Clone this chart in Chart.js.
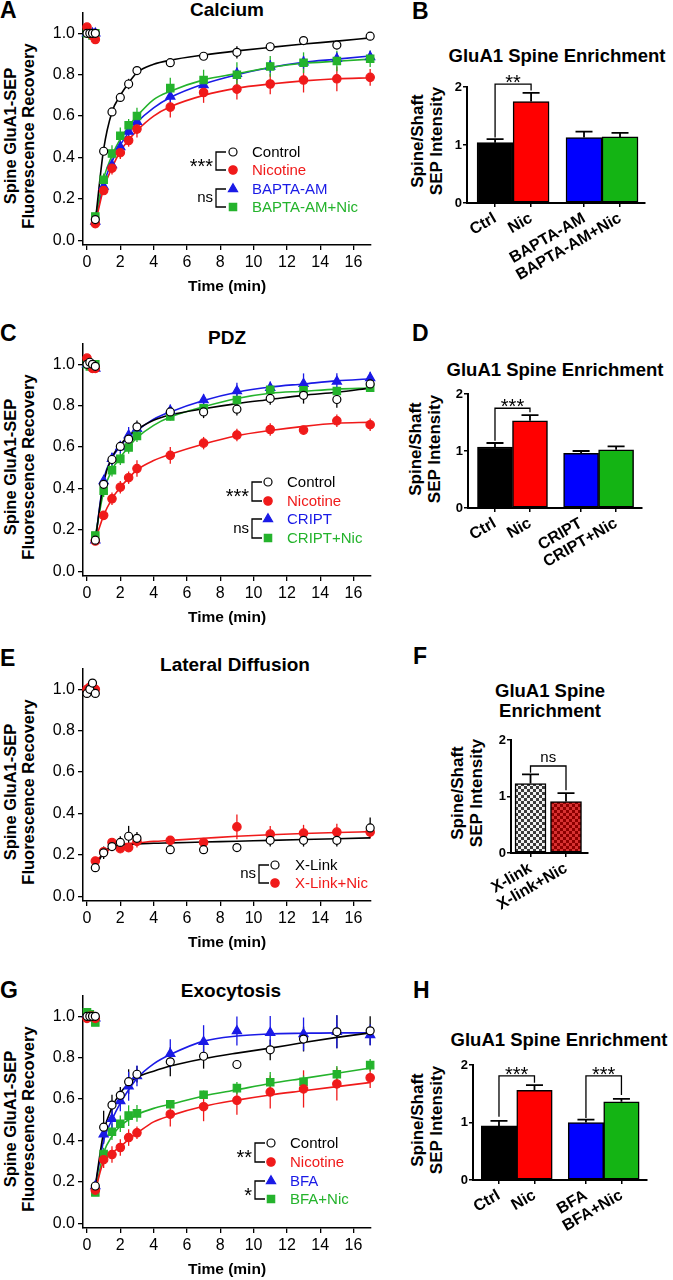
<!DOCTYPE html>
<html>
<head>
<meta charset="utf-8">
<script src="https://cdn.jsdelivr.net/npm/chart.js@4.4.0/dist/chart.umd.min.js"></script>
<style>
  body { margin: 0; background: #fff; }
  #fig { position: relative; width: 673px; height: 1280px; overflow: hidden; font-family: Arial, "Liberation Sans", Helvetica, sans-serif; color: #000; }
  canvas { position: absolute; }
  .letter { position: absolute; font-weight: bold; font-size: 23px; line-height: 23px; }
  .ttl { position: absolute; font-weight: bold; font-size: 19px; line-height: 19px; white-space: nowrap; transform: translate(-50%, -50%); }
  .ttl.bar { font-size: 18.5px; }
  .yt { position: absolute; font-weight: bold; font-size: 16.5px; line-height: 18px; text-align: center; white-space: nowrap; transform: translate(-50%, -50%) rotate(-90deg); }
  .yt.bar { font-size: 17px; line-height: 19px; }
</style>
</head>
<body>
<div id="fig">
  <div class="letter" style="left:0;top:-1px">A</div>
  <div class="letter" style="left:412px;top:0">B</div>
  <div class="letter" style="left:0;top:322px">C</div>
  <div class="letter" style="left:412px;top:322px">D</div>
  <div class="letter" style="left:0;top:647px">E</div>
  <div class="letter" style="left:413px;top:645px">F</div>
  <div class="letter" style="left:0;top:979px">G</div>
  <div class="letter" style="left:413px;top:979px">H</div>

  <div class="ttl" style="left:227px;top:9px">Calcium</div>
  <div class="ttl" style="left:227px;top:337px">PDZ</div>
  <div class="ttl" style="left:235px;top:664px">Lateral Diffusion</div>
  <div class="ttl" style="left:231px;top:990px">Exocytosis</div>
  <div class="ttl bar" style="left:557px;top:55px">GluA1 Spine Enrichment</div>
  <div class="ttl bar" style="left:555px;top:369px">GluA1 Spine Enrichment</div>
  <div class="ttl bar" style="left:550px;top:690px">GluA1 Spine</div>
  <div class="ttl bar" style="left:550px;top:710px">Enrichment</div>
  <div class="ttl bar" style="left:559px;top:1039px">GluA1 Spine Enrichment</div>

  <div class="yt" style="left:19px;top:136px">Spine GluA1-SEP<br>Fluorescence Recovery</div>
  <div class="yt" style="left:19px;top:467px">Spine GluA1-SEP<br>Fluorescence Recovery</div>
  <div class="yt" style="left:19px;top:792px">Spine GluA1-SEP<br>Fluorescence Recovery</div>
  <div class="yt" style="left:19px;top:1119px">Spine GluA1-SEP<br>Fluorescence Recovery</div>
  <div class="yt bar" style="left:427px;top:141px">Spine/Shaft<br>SEP Intensity</div>
  <div class="yt bar" style="left:425px;top:449px">Spine/Shaft<br>SEP Intensity</div>
  <div class="yt bar" style="left:467px;top:793px">Spine/Shaft<br>SEP Intensity</div>
  <div class="yt bar" style="left:427px;top:1120px">Spine/Shaft<br>SEP Intensity</div>

  <canvas id="chartA" width="380" height="296" style="left:0;top:0"></canvas>
  <canvas id="chartC" width="380" height="296" style="left:0;top:331px"></canvas>
  <canvas id="chartE" width="380" height="296" style="left:0;top:656px"></canvas>
  <canvas id="chartG" width="380" height="296" style="left:0;top:983px"></canvas>
  <canvas id="chartB" width="260" height="210" style="left:400px;top:70px"></canvas>
  <canvas id="chartD" width="260" height="210" style="left:400px;top:377px"></canvas>
  <canvas id="chartF" width="170" height="210" style="left:440px;top:723px"></canvas>
  <canvas id="chartH" width="260" height="210" style="left:400px;top:1048px"></canvas>
</div>

<script>
// time axes (min)
const timePre = [0, 0.17, 0.33, 0.5];
const timePost = [0.5, 1, 1.5, 2, 2.5, 3, 5, 7, 9, 11, 13, 15, 17];
const timeFit = [0.5, 1, 1.5, 2, 2.5, 3, 4, 5, 7, 9, 11, 13, 15, 17];
const xTicks = [0, 2, 4, 6, 8, 10, 12, 14, 16];
const yTicks = [0, 0.2, 0.4, 0.6, 0.8, 1.0];
const barTicks = [0, 1, 2];

// A - Calcium
const caCtrlPre = [1.0, 1.0, 1.0, 1.0];
const caCtrl = [0.10, 0.43, 0.62, 0.69, 0.755, 0.82, 0.858, 0.889, 0.908, 0.935, 0.965, 0.943, 0.986];
const caCtrlErr = [0.01, 0.015, 0.015, 0.02, 0.025, 0.02, 0.015, 0.015, 0.03, 0.02, 0.015, 0.02, 0.02];
const caCtrlFit = [0.09, 0.44, 0.62, 0.70, 0.76, 0.81, 0.85, 0.87, 0.895, 0.915, 0.932, 0.948, 0.962, 0.978];
const caNicPre = [1.03, 1.0, 0.99, 0.97];
const caNic = [0.08, 0.24, 0.348, 0.423, 0.482, 0.537, 0.643, 0.714, 0.73, 0.755, 0.774, 0.78, 0.787];
const caNicErr = [0.01, 0.02, 0.03, 0.03, 0.03, 0.04, 0.05, 0.05, 0.05, 0.05, 0.06, 0.06, 0.04];
const caNicFit = [0.08, 0.25, 0.35, 0.43, 0.485, 0.53, 0.60, 0.645, 0.70, 0.735, 0.755, 0.77, 0.78, 0.785];
const caBapPre = [1.0, 1.0, 1.0, 1.0];
const caBap = [0.09, 0.26, 0.363, 0.45, 0.525, 0.573, 0.695, 0.75, 0.805, 0.84, 0.86, 0.877, 0.886];
const caBapErr = [0.01, 0.02, 0.02, 0.03, 0.03, 0.03, 0.03, 0.03, 0.03, 0.03, 0.03, 0.03, 0.03];
const caBapFit = [0.09, 0.27, 0.38, 0.46, 0.52, 0.57, 0.64, 0.69, 0.755, 0.80, 0.835, 0.86, 0.875, 0.89];
const caBapNicPre = [1.0, 1.0, 0.99, 1.0];
const caBapNic = [0.115, 0.292, 0.419, 0.505, 0.556, 0.60, 0.735, 0.774, 0.80, 0.84, 0.858, 0.866, 0.877];
const caBapNicErr = [0.01, 0.03, 0.04, 0.04, 0.03, 0.04, 0.05, 0.05, 0.06, 0.05, 0.05, 0.05, 0.04];
const caBapNicFit = [0.11, 0.30, 0.41, 0.49, 0.55, 0.60, 0.68, 0.72, 0.775, 0.805, 0.835, 0.855, 0.865, 0.875];

// C - PDZ
const pdzCtrlPre = [1.0, 1.01, 1.0, 0.99];
const pdzCtrl = [0.15, 0.42, 0.54, 0.603, 0.638, 0.698, 0.77, 0.77, 0.783, 0.835, 0.85, 0.83, 0.905];
const pdzCtrlErr = [0.01, 0.02, 0.03, 0.02, 0.03, 0.03, 0.02, 0.03, 0.03, 0.03, 0.04, 0.04, 0.03];
const pdzCtrlFit = [0.15, 0.43, 0.55, 0.61, 0.655, 0.685, 0.73, 0.755, 0.785, 0.81, 0.83, 0.85, 0.865, 0.885];
const pdzNicPre = [1.03, 1.0, 0.98, 0.98];
const pdzNic = [0.146, 0.27, 0.35, 0.406, 0.452, 0.496, 0.56, 0.619, 0.658, 0.685, 0.682, 0.727, 0.708];
const pdzNicErr = [0.01, 0.02, 0.03, 0.03, 0.03, 0.04, 0.04, 0.03, 0.03, 0.03, 0.02, 0.03, 0.03];
const pdzNicFit = [0.15, 0.27, 0.35, 0.405, 0.45, 0.49, 0.535, 0.565, 0.615, 0.655, 0.68, 0.70, 0.715, 0.72];
const pdzCriptPre = [1.0, 1.0, 0.99, 0.98];
const pdzCript = [0.15, 0.436, 0.543, 0.60, 0.657, 0.688, 0.776, 0.827, 0.871, 0.887, 0.906, 0.917, 0.934];
const pdzCriptErr = [0.01, 0.03, 0.03, 0.03, 0.04, 0.03, 0.03, 0.03, 0.04, 0.03, 0.05, 0.04, 0.03];
const pdzCriptFit = [0.15, 0.44, 0.545, 0.605, 0.65, 0.68, 0.735, 0.77, 0.825, 0.865, 0.89, 0.905, 0.92, 0.93];
const pdzCriptNicPre = [1.0, 0.99, 1.0, 1.0];
const pdzCriptNic = [0.173, 0.389, 0.488, 0.543, 0.598, 0.654, 0.748, 0.787, 0.827, 0.877, 0.874, 0.871, 0.887];
const pdzCriptNicErr = [0.01, 0.03, 0.03, 0.03, 0.03, 0.03, 0.02, 0.03, 0.03, 0.02, 0.02, 0.02, 0.02];
const pdzCriptNicFit = [0.17, 0.385, 0.49, 0.55, 0.60, 0.645, 0.705, 0.745, 0.795, 0.835, 0.86, 0.87, 0.88, 0.885];

// E - Lateral diffusion
const latCtrlPre = [0.98, 1.0, 1.03, 0.98];
const latCtrl = [0.138, 0.21, 0.24, 0.26, 0.29, 0.28, 0.225, 0.225, 0.235, 0.27, 0.27, 0.27, 0.33];
const latCtrlErr = [0.01, 0.03, 0.02, 0.03, 0.05, 0.03, 0.02, 0.01, 0.01, 0.03, 0.03, 0.03, 0.05];
const latCtrlFit = [0.14, 0.21, 0.24, 0.245, 0.25, 0.252, 0.256, 0.258, 0.262, 0.266, 0.27, 0.274, 0.278, 0.282];
const latNicPre = [1.0, 1.01, 1.0, 1.0];
const latNic = [0.17, 0.215, 0.26, 0.23, 0.235, 0.265, 0.27, 0.26, 0.335, 0.30, 0.305, 0.31, 0.31];
const latNicErr = [0.01, 0.02, 0.02, 0.02, 0.02, 0.03, 0.02, 0.02, 0.06, 0.04, 0.04, 0.04, 0.03];
const latNicFit = [0.17, 0.205, 0.235, 0.25, 0.255, 0.258, 0.265, 0.27, 0.28, 0.29, 0.297, 0.303, 0.308, 0.312];

// G - Exocytosis
const exoCtrlPre = [1.0, 1.0, 1.0, 1.0];
const exoCtrl = [0.18, 0.464, 0.571, 0.618, 0.684, 0.72, 0.78, 0.807, 0.767, 0.838, 0.89, 0.925, 0.93];
const exoCtrlErr = [0.01, 0.08, 0.05, 0.04, 0.06, 0.04, 0.07, 0.06, 0.02, 0.05, 0.06, 0.08, 0.07];
const exoCtrlFit = [0.18, 0.44, 0.56, 0.63, 0.675, 0.705, 0.735, 0.76, 0.795, 0.822, 0.846, 0.873, 0.898, 0.92];
const exoNicPre = [0.99, 1.0, 1.0, 0.99];
const exoNic = [0.16, 0.307, 0.332, 0.366, 0.414, 0.437, 0.527, 0.563, 0.594, 0.634, 0.649, 0.673, 0.703];
const exoNicErr = [0.01, 0.04, 0.04, 0.04, 0.04, 0.03, 0.06, 0.07, 0.07, 0.08, 0.09, 0.08, 0.05];
const exoNicFit = [0.16, 0.30, 0.34, 0.37, 0.405, 0.435, 0.49, 0.52, 0.565, 0.595, 0.62, 0.64, 0.66, 0.68];
const exoBfaPre = [1.01, 1.0, 1.0, 0.99];
const exoBfa = [0.18, 0.43, 0.505, 0.591, 0.662, 0.712, 0.819, 0.877, 0.929, 0.921, 0.914, 0.925, 0.91];
const exoBfaErr = [0.01, 0.04, 0.05, 0.05, 0.07, 0.05, 0.07, 0.08, 0.07, 0.08, 0.08, 0.08, 0.05];
const exoBfaFit = [0.18, 0.40, 0.50, 0.58, 0.645, 0.70, 0.77, 0.815, 0.88, 0.905, 0.915, 0.918, 0.92, 0.92];
const exoBfaNicPre = [1.02, 1.01, 1.0, 0.97];
const exoBfaNic = [0.149, 0.335, 0.442, 0.481, 0.52, 0.531, 0.575, 0.621, 0.653, 0.681, 0.684, 0.72, 0.764];
const exoBfaNicErr = [0.01, 0.03, 0.04, 0.04, 0.05, 0.04, 0.02, 0.02, 0.03, 0.05, 0.03, 0.04, 0.03];
const exoBfaNicFit = [0.15, 0.34, 0.42, 0.47, 0.50, 0.525, 0.555, 0.575, 0.615, 0.645, 0.675, 0.70, 0.725, 0.75];

// bar panels: spine/shaft ratio, mean and SEM
const calciumBars = ['Ctrl', 'Nic', 'BAPTA-AM', 'BAPTA-AM+Nic'];
const calciumMean = [1.04, 1.75, 1.13, 1.14];
const calciumSem = [0.06, 0.15, 0.10, 0.07];
const pdzBars = ['Ctrl', 'Nic', 'CRIPT', 'CRIPT+Nic'];
const pdzMean = [1.07, 1.53, 0.96, 1.02];
const pdzSem = [0.07, 0.10, 0.04, 0.06];
const xlinkBars = ['X-link', 'X-link+Nic'];
const xlinkMean = [1.23, 0.91];
const xlinkSem = [0.16, 0.15];
const exoBars = ['Ctrl', 'Nic', 'BFA', 'BFA+Nic'];
const exoMean = [0.94, 1.56, 1.0, 1.36];
const exoSem = [0.09, 0.09, 0.05, 0.05];

const FONT = 'Arial, "Liberation Sans", Helvetica, sans-serif';
Chart.defaults.font.family = FONT;
Chart.defaults.color = '#000';

const RED = '#f01a1a', BLUE = '#1a1ae6', GREEN = '#24b32c';
const look = {
  ctrl: { color: '#000', fill: '#fff', pointStyle: 'circle', radius: 4 },
  nic: { color: RED, fill: RED, pointStyle: 'circle', radius: 4.2 },
  tri: { color: BLUE, fill: BLUE, pointStyle: 'triangle', radius: 5.3 },
  sq: { color: GREEN, fill: GREEN, pointStyle: 'rect', radius: 5.2 }
};

// vertical SEM bars under the markers (both directions)
const pointErrors = {
  id: 'pointErrors',
  beforeDatasetsDraw(chart) {
    const { ctx } = chart;
    const y = chart.scales.y;
    chart.data.datasets.forEach((ds, i) => {
      if (!ds.errors) return;
      const meta = chart.getDatasetMeta(i);
      ctx.save();
      ctx.strokeStyle = ds.borderColor;
      ctx.lineWidth = 1.3;
      meta.data.forEach((el, j) => {
        const e = ds.errors[j];
        if (!e) return;
        const v = ds.data[j].y;
        ctx.beginPath();
        ctx.moveTo(el.x, y.getPixelForValue(v + e));
        ctx.lineTo(el.x, y.getPixelForValue(v - e));
        ctx.stroke();
      });
      ctx.restore();
    });
  }
};

// upward SEM bars with caps for the bar panels
const barErrors = {
  id: 'barErrors',
  afterDatasetsDraw(chart) {
    const { ctx } = chart;
    const y = chart.scales.y;
    const ds = chart.data.datasets[0];
    const meta = chart.getDatasetMeta(0);
    ctx.save();
    ctx.strokeStyle = '#000';
    ctx.lineWidth = 1.8;
    meta.data.forEach((el, j) => {
      const v = ds.data[j].y;
      const top = y.getPixelForValue(v + ds.errors[j]);
      ctx.beginPath();
      ctx.moveTo(el.x, y.getPixelForValue(v));
      ctx.lineTo(el.x, top);
      ctx.moveTo(el.x - 8.5, top);
      ctx.lineTo(el.x + 8.5, top);
      ctx.stroke();
    });
    ctx.restore();
  }
};

function starText(ctx, text, x, y, align) {
  ctx.textAlign = align;
  ctx.textBaseline = 'alphabetic';
  if (text === 'ns') {
    ctx.font = '15px ' + FONT;
    ctx.fillText(text, x, y + 4);
  } else {
    ctx.font = '20px ' + FONT;
    ctx.fillText(text, x, y + 11.5);
  }
}

function bracketPlugin(items) {
  return {
    id: 'brackets',
    afterDatasetsDraw(chart) {
      const { ctx, scales: { x, y } } = chart;
      const pts = chart.data.datasets[0].data;
      ctx.save();
      ctx.strokeStyle = '#000';
      ctx.fillStyle = '#000';
      ctx.lineWidth = 1.3;
      items.forEach(b => {
        const xa = x.getPixelForValue(pts[b.a].x);
        const xb = x.getPixelForValue(pts[b.b].x);
        const yt = y.getPixelForValue(b.top);
        ctx.beginPath();
        ctx.moveTo(xa, y.getPixelForValue(b.left));
        ctx.lineTo(xa, yt);
        ctx.lineTo(xb, yt);
        ctx.lineTo(xb, y.getPixelForValue(b.right));
        ctx.stroke();
        if (b.text === 'ns') starText(ctx, 'ns', (xa + xb) / 2, yt - 8, 'center');
        else starText(ctx, b.text, (xa + xb) / 2, yt - 6.5, 'center');
      });
      ctx.restore();
    }
  };
}

function legendPlugin(spec) {
  return {
    id: 'legendBox',
    afterDraw(chart) {
      const { ctx } = chart;
      ctx.save();
      spec.items.forEach((it, k) => {
        const yy = spec.rows[k];
        ctx.fillStyle = it.look.fill;
        ctx.strokeStyle = it.look.color;
        ctx.lineWidth = 1.2;
        Chart.helpers.drawPoint(ctx, { pointStyle: it.look.pointStyle, radius: it.look.radius, rotation: 0, borderWidth: 1.2 }, spec.markerX, yy);
        ctx.fillStyle = it.look.color;
        ctx.font = '15px ' + FONT;
        ctx.textAlign = 'left';
        ctx.textBaseline = 'middle';
        ctx.fillText(it.label, spec.textX, yy + 0.5);
      });
      ctx.strokeStyle = '#000';
      ctx.fillStyle = '#000';
      ctx.lineWidth = 1.3;
      spec.groups.forEach(g => {
        const y0 = spec.rows[g.from], y1 = spec.rows[g.to];
        ctx.beginPath();
        ctx.moveTo(spec.bracketX + 10, y0);
        ctx.lineTo(spec.bracketX, y0);
        ctx.lineTo(spec.bracketX, y1);
        ctx.lineTo(spec.bracketX + 10, y1);
        ctx.stroke();
        starText(ctx, g.label, spec.bracketX - 3, (y0 + y1) / 2, 'right');
      });
      ctx.restore();
    }
  };
}

function lineChart(id, series, legend) {
  const datasets = [];
  series.forEach((s, k) => {
    datasets.push({
      data: timePre.map((t, i) => ({ x: t, y: s.pre[i] })).concat(timePost.map((t, i) => ({ x: t, y: s.post[i] }))),
      errors: s.pre.map(() => 0).concat(s.err),
      showLine: false,
      pointStyle: s.look.pointStyle,
      pointRadius: s.look.radius,
      pointBackgroundColor: s.look.fill,
      pointBorderColor: s.look.color,
      borderColor: s.look.color,
      pointBorderWidth: 1.2,
      order: k,
      clip: false
    });
    datasets.push({
      data: timeFit.map((t, i) => ({ x: t, y: s.fit[i] })),
      showLine: true,
      pointRadius: 0,
      borderColor: s.look.color,
      borderWidth: 1.6,
      cubicInterpolationMode: 'monotone',
      order: 10 + k,
      clip: false
    });
  });
  const axisLine = { color: '#000', width: 1.5 };
  const tickGrid = { drawOnChartArea: false, tickLength: 5, color: '#000', lineWidth: 1.3 };
  new Chart(document.getElementById(id), {
    type: 'scatter',
    data: { datasets },
    options: {
      responsive: false,
      animation: false,
      devicePixelRatio: 1,
      events: [],
      layout: { padding: { top: 8, right: 9, left: 0, bottom: 0 } },
      plugins: { legend: { display: false }, tooltip: { enabled: false } },
      scales: {
        x: {
          type: 'linear', min: -0.24, max: 17.05,
          afterFit(s) { s.height = 51; },
          afterBuildTicks(s) { s.ticks = xTicks.map(v => ({ value: v })); },
          ticks: { font: { size: 16 }, padding: 3, maxRotation: 0, color: '#000' },
          title: { display: true, text: 'Time (min)', font: { size: 15.5, weight: 'bold' }, padding: { top: 0, bottom: 0 }, color: '#000' },
          grid: tickGrid, border: axisLine
        },
        y: {
          type: 'linear', min: -0.023, max: 1.1,
          afterFit(s) { s.width = 83; },
          afterBuildTicks(s) { s.ticks = yTicks.map(v => ({ value: v })); },
          ticks: { font: { size: 16 }, padding: 3, color: '#000', callback: v => v.toFixed(1) },
          grid: tickGrid, border: axisLine
        }
      }
    },
    plugins: [pointErrors, legendPlugin(legend)]
  });
}

function checker(dark, light) {
  const c = document.createElement('canvas');
  c.width = 6; c.height = 6;
  const g = c.getContext('2d');
  g.fillStyle = dark; g.fillRect(0, 0, 6, 6);
  g.fillStyle = light; g.fillRect(0, 0, 3, 3); g.fillRect(3, 3, 3, 3);
  return g.createPattern(c, 'repeat');
}

function barChart(o) {
  const pos = i => 1 + i + (i >= 2 ? o.gap : 0);
  const axisLine = { color: '#000', width: 2 };
  const tickGrid = { drawOnChartArea: false, tickLength: 4, color: '#000', lineWidth: 1.5, offset: false };
  new Chart(document.getElementById(o.id), {
    type: 'bar',
    data: {
      datasets: [{
        data: o.labels.map((l, i) => ({ x: pos(i), y: o.values[i] })),
        errors: o.errs,
        backgroundColor: o.colors,
        borderColor: '#000',
        borderWidth: 1.5,
        borderSkipped: false,
        barThickness: o.thick
      }]
    },
    options: {
      responsive: false,
      animation: false,
      devicePixelRatio: 1,
      events: [],
      layout: { padding: { top: 17, right: o.padRight, left: 0, bottom: 0 } },
      plugins: { legend: { display: false }, tooltip: { enabled: false } },
      scales: {
        x: {
          type: 'linear', offset: false, min: o.xMin, max: o.xMax,
          afterFit(s) { s.height = 210 - 17 - o.plotH; },
          afterBuildTicks(s) { s.ticks = o.labels.map((l, i) => ({ value: pos(i) })); },
          ticks: {
            font: { size: 16, weight: 'bold' }, padding: 2, color: '#000',
            minRotation: 30, maxRotation: 30, autoSkip: false,
            callback: (v, i) => o.labels[i]
          },
          grid: tickGrid, border: axisLine
        },
        y: {
          type: 'linear', min: 0, max: 2,
          afterFit(s) { s.width = o.yWidth; },
          afterBuildTicks(s) { s.ticks = barTicks.map(v => ({ value: v })); },
          ticks: { font: { size: 13, weight: 'bold' }, padding: 1, color: '#000' },
          grid: tickGrid, border: axisLine
        }
      }
    },
    plugins: [barErrors, bracketPlugin(o.brackets)]
  });
}

// ---- line panels ----
lineChart('chartA', [
  { look: look.ctrl, pre: caCtrlPre, post: caCtrl, err: caCtrlErr, fit: caCtrlFit },
  { look: look.nic, pre: caNicPre, post: caNic, err: caNicErr, fit: caNicFit },
  { look: look.sq, pre: caBapNicPre, post: caBapNic, err: caBapNicErr, fit: caBapNicFit },
  { look: look.tri, pre: caBapPre, post: caBap, err: caBapErr, fit: caBapFit }
], {
  markerX: 233, textX: 252, bracketX: 216, rows: [152, 170, 189, 207],
  items: [
    { look: look.ctrl, label: 'Control' }, { look: look.nic, label: 'Nicotine' },
    { look: look.tri, label: 'BAPTA-AM' }, { look: look.sq, label: 'BAPTA-AM+Nic' }
  ],
  groups: [{ from: 0, to: 1, label: '***' }, { from: 2, to: 3, label: 'ns' }]
});

lineChart('chartC', [
  { look: look.ctrl, pre: pdzCtrlPre, post: pdzCtrl, err: pdzCtrlErr, fit: pdzCtrlFit },
  { look: look.nic, pre: pdzNicPre, post: pdzNic, err: pdzNicErr, fit: pdzNicFit },
  { look: look.sq, pre: pdzCriptNicPre, post: pdzCriptNic, err: pdzCriptNicErr, fit: pdzCriptNicFit },
  { look: look.tri, pre: pdzCriptPre, post: pdzCript, err: pdzCriptErr, fit: pdzCriptFit }
], {
  markerX: 268, textX: 287, bracketX: 252, rows: [151, 170, 188, 207],
  items: [
    { look: look.ctrl, label: 'Control' }, { look: look.nic, label: 'Nicotine' },
    { look: look.tri, label: 'CRIPT' }, { look: look.sq, label: 'CRIPT+Nic' }
  ],
  groups: [{ from: 0, to: 1, label: '***' }, { from: 2, to: 3, label: 'ns' }]
});

lineChart('chartE', [
  { look: look.ctrl, pre: latCtrlPre, post: latCtrl, err: latCtrlErr, fit: latCtrlFit },
  { look: look.nic, pre: latNicPre, post: latNic, err: latNicErr, fit: latNicFit }
], {
  markerX: 275, textX: 295, bracketX: 259, rows: [209, 227],
  items: [{ look: look.ctrl, label: 'X-Link' }, { look: look.nic, label: 'X-Link+Nic' }],
  groups: [{ from: 0, to: 1, label: 'ns' }]
});

lineChart('chartG', [
  { look: look.ctrl, pre: exoCtrlPre, post: exoCtrl, err: exoCtrlErr, fit: exoCtrlFit },
  { look: look.nic, pre: exoNicPre, post: exoNic, err: exoNicErr, fit: exoNicFit },
  { look: look.sq, pre: exoBfaNicPre, post: exoBfaNic, err: exoBfaNicErr, fit: exoBfaNicFit },
  { look: look.tri, pre: exoBfaPre, post: exoBfa, err: exoBfaErr, fit: exoBfaFit }
], {
  markerX: 271, textX: 290, bracketX: 255, rows: [160, 179, 198, 216],
  items: [
    { look: look.ctrl, label: 'Control' }, { look: look.nic, label: 'Nicotine' },
    { look: look.tri, label: 'BFA' }, { look: look.sq, label: 'BFA+Nic' }
  ],
  groups: [{ from: 0, to: 1, label: '**' }, { from: 2, to: 3, label: '*' }]
});

// ---- bar panels ----
const barColors = ['#000000', '#ff0000', '#0000ff', '#14b414'];

barChart({
  id: 'chartB', labels: calciumBars, values: calciumMean, errs: calciumSem, colors: barColors,
  gap: 0.47, xMin: 0.22, xMax: 5.164, thick: 36, yWidth: 67, padRight: 15, plotH: 116,
  brackets: [{ a: 0, b: 1, top: 2.05, left: 1.13, right: 1.94, text: '**' }]
});

barChart({
  id: 'chartD', labels: pdzBars, values: pdzMean, errs: pdzSem, colors: barColors,
  gap: 0.46, xMin: 0.229, xMax: 5.2, thick: 35, yWidth: 68, padRight: 18, plotH: 114,
  brackets: [{ a: 0, b: 1, top: 1.75, left: 1.18, right: 1.68, text: '***' }]
});

barChart({
  id: 'chartF', labels: xlinkBars, values: xlinkMean, errs: xlinkSem,
  colors: [checker('#3c3c3c', '#f2f2f2'), checker('#8c0000', '#d83232')],
  gap: 0, xMin: 0.45, xMax: 2.62, thick: 31, yWidth: 71, padRight: 22, plotH: 113,
  brackets: [{ a: 0, b: 1, top: 1.54, left: 1.42, right: 1.11, text: 'ns' }]
});

barChart({
  id: 'chartH', labels: exoBars, values: exoMean, errs: exoSem, colors: barColors,
  gap: 0.45, xMin: 0.268, xMax: 5.17, thick: 35.5, yWidth: 73, padRight: 13, plotH: 115,
  brackets: [
    { a: 0, b: 1, top: 1.81, left: 1.1, right: 1.69, text: '***' },
    { a: 2, b: 3, top: 1.81, left: 1.08, right: 1.48, text: '***' }
  ]
});
</script>
</body>
</html>
